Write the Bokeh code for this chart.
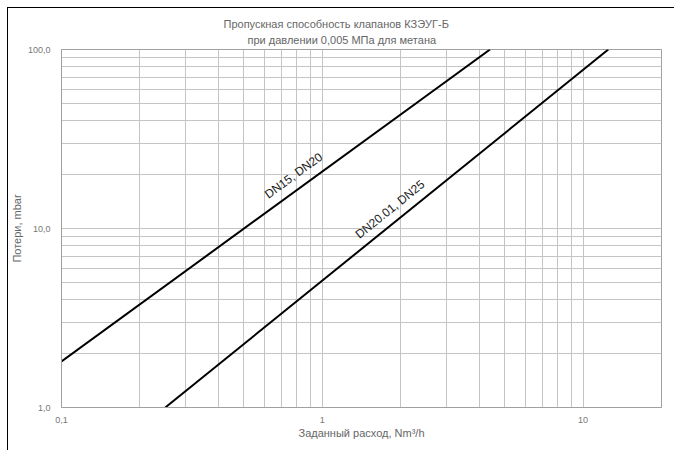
from bokeh.plotting import figure
from bokeh.models import FixedTicker, Title, ColumnDataSource
from bokeh.embed import file_html
from bokeh.resources import INLINE
from bokeh.core.properties import value

# data
line1_x = [0.1, 4.4]
line1_y = [1.81, 100.0]
line2_x = [0.25, 12.5]
line2_y = [1.0, 100.0]
labels = ["DN15, DN20", "DN20.01, DN25"]
label_x = [0.79, 1.85]
label_y = [19.0, 12.3]
label_angle = [36.1, 38.9]
x_ticks = [0.1, 1, 10]
x_tick_labels = ["0,1", "1", "10"]
y_ticks = [1, 10, 100]
y_tick_labels = ["1,0", "10,0", "100,0"]
x_minor = [0.2, 0.3, 0.4, 0.5, 0.6, 0.7, 0.8, 0.9, 2, 3, 4, 5, 6, 7, 8, 9, 20]
y_minor = [2, 3, 4, 5, 6, 7, 8, 9, 20, 30, 40, 50, 60, 70, 80, 90]
title_lines = ["Пропускная способность клапанов КЗЭУГ-Б", "при давлении 0,005 МПа для метана"]

FONT = "Liberation Sans"
TXT = "#666666"
GRID = "#c4c4c4"

styles = {"background-color": "white",
          "background-image": "linear-gradient(#000,#000), linear-gradient(#000,#000)",
          "background-size": "1px 100%, 100% 1px",
          "background-position": "7px 7px, 7px 7px",
          "background-repeat": "no-repeat"}

p = figure(width=674, height=450, x_axis_type="log", y_axis_type="log",
           x_range=(0.1, 20), y_range=(1, 100),
           output_backend="svg", toolbar_location=None,
           min_border_left=61, min_border_right=13, min_border_top=49, min_border_bottom=43,
           styles=styles)
p.title.text = ""

t2 = Title(text=title_lines[1], align="left", offset=186, standoff=8,
           text_font=FONT, text_font_size="11px", text_color=TXT, text_font_style="normal")
t1 = Title(text=title_lines[0], align="left", offset=162, standoff=-4,
           text_font=FONT, text_font_size="11px", text_color=TXT, text_font_style="normal")
p.add_layout(t2, "above")
p.add_layout(t1, "above")

p.outline_line_color = "#a0a0a0"
p.background_fill_color = "white"
p.border_fill_color = None

p.xaxis.ticker = FixedTicker(ticks=x_ticks, minor_ticks=x_minor)
p.yaxis.ticker = FixedTicker(ticks=y_ticks, minor_ticks=y_minor)
p.xaxis.major_label_overrides = {t: l for t, l in zip(x_ticks, x_tick_labels)}
p.yaxis.major_label_overrides = {t: l for t, l in zip(y_ticks, y_tick_labels)}

for ax in (p.xaxis, p.yaxis):
    ax.major_tick_line_color = None
    ax.minor_tick_line_color = None
    ax.axis_line_color = "#a0a0a0"
    ax.major_label_text_font = FONT
    ax.major_label_text_font_size = "9px"
    ax.major_label_text_color = "#777777"
    ax.axis_label_text_font = FONT
    ax.axis_label_text_font_size = "11px"
    ax.axis_label_text_color = TXT
    ax.axis_label_text_font_style = "normal"

p.xaxis.axis_label = "Заданный расход, Nm³/h"
p.yaxis.axis_label = "Потери, mbar"
p.xaxis.major_label_standoff = 3
p.xaxis.axis_label_standoff = 1
p.yaxis.major_label_standoff = 5
p.yaxis.axis_label_standoff = 2

for g in (p.xgrid, p.ygrid):
    g.grid_line_color = GRID
    g.minor_grid_line_color = GRID
    g.grid_line_width = 1
    g.minor_grid_line_width = 1

p.line(line1_x, line1_y, line_color="black", line_width=2)
p.line(line2_x, line2_y, line_color="black", line_width=2)

src = ColumnDataSource(dict(x=label_x, y=label_y, text=labels, angle=label_angle))
p.text(x="x", y="y", text="text", angle="angle", angle_units="deg", source=src,
       x_offset=-2, y_offset=-3,
       text_font=value(FONT), text_font_size="12px", text_color="#1a1a1a",
       text_align="center", text_baseline="middle")

open("out.html", "w").write(file_html(p, INLINE))
